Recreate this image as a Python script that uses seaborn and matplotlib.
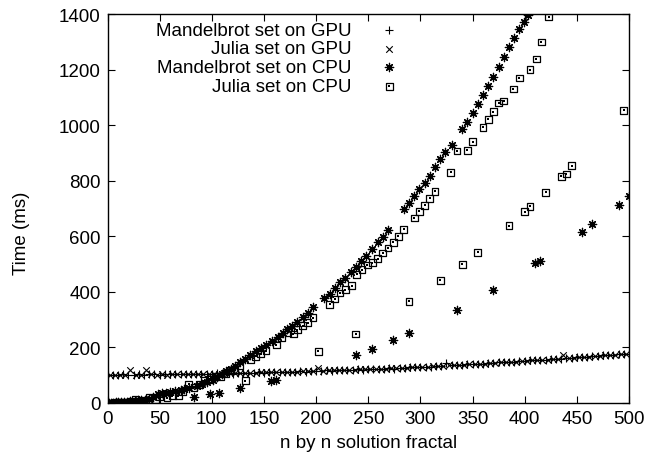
import matplotlib
matplotlib.use("Agg")
import matplotlib.pyplot as plt
import seaborn as sns
import numpy as np

# ---------------- data ----------------
mandel_gpu_x = list(range(0, 501, 5))
mandel_gpu_y = [101, 102, 101, 103, 102, 101, 103, 102, 104, 103, 102, 104, 103, 104, 103, 105, 104, 105, 104, 106, 105,
                107, 106, 107, 106, 108, 107, 109, 108, 110, 109,
                111, 110, 112, 111, 113, 112, 114, 113, 115, 116,
                115, 117, 116, 118, 119, 118, 120, 121, 120, 122,
                123, 122, 124, 125, 124, 126, 127, 128, 129, 130,
                131, 131, 133, 134, 145, 136, 137, 138, 139, 140,
                141, 142, 143, 144, 146, 147, 148, 149, 150, 151,
                153, 154, 155, 156, 157, 159, 160, 161, 163, 164,
                165, 167, 168, 170, 171, 172, 174, 175, 177, 178]

julia_gpu_x = list(range(2, 501, 5))
julia_gpu_y = [100, 101, 102, 101, 120, 102, 101, 117, 103, 102, 103, 102, 104, 103, 104, 103, 105, 104, 105, 105,
               106, 106, 107, 107, 108, 108, 108, 109, 109, 110, 110, 111, 111, 112, 112, 113, 113, 114, 114, 115,
               126, 116, 117, 117, 118, 119, 119, 120, 121, 121, 122, 123, 123, 124, 125, 125, 126, 127, 128, 129,
               130, 131, 132, 133, 134, 135, 136, 137, 138, 139, 140, 141, 142, 143, 145, 146, 147, 148, 149, 150,
               152, 153, 154, 155, 156, 158, 159, 172, 162, 163, 164, 166, 167, 169, 170, 171, 173, 174, 176, 177]

mandel_cpu_x = [1, 3, 5, 8, 10, 13, 16, 19, 22, 26, 29, 32, 36, 40, 44, 48, 52, 56, 60, 65, 70, 73, 78, 83, 86,
                91, 95, 98, 101, 105, 107, 110, 114, 118, 122, 127, 127, 132, 137, 142, 147, 152, 157, 158, 162,
                163, 168, 172, 177, 182, 187, 192, 197, 208, 213, 218, 223, 228, 233, 238, 238, 243, 248, 254, 254,
                259, 264, 269, 274, 284, 289, 289, 294, 299, 304, 309, 314, 319, 324, 330, 335, 340, 345, 350, 355,
                360, 365, 370, 370, 375, 380, 385, 390, 395, 399, 403, 410, 415, 455, 465, 490, 500]
mandel_cpu_y = [0, 1, 1, 2, 2, 3, 4, 5, 6, 7, 9, 10, 12, 16, 22, 33, 35, 37, 38, 42, 46, 50, 55, 20, 62,
                68, 75, 34, 84, 92, 36, 103, 115, 124, 134, 53, 146, 158, 174, 186, 197, 207, 78, 224, 83,
                238, 252, 265, 278, 292, 308, 325, 344, 377, 393, 414, 434, 451, 470, 174, 488, 510, 530, 194, 555,
                578, 599, 621, 225, 697, 251, 720, 746, 769, 793, 818, 848, 877, 902, 928, 336, 985, 1012, 1044, 1075,
                1108, 1140, 407, 1175, 1210, 1245, 1280, 1315, 1345, 1370, 1398, 504, 512, 617, 643, 712, 744]

julia_cpu_x = [1, 4, 7, 10, 13, 16, 19, 22, 27, 31, 34, 40, 46, 50, 57, 62, 68, 72, 78, 83, 88, 93, 98, 103, 108,
               113, 118, 122, 127, 132, 137, 142, 147, 152, 162, 167, 173, 178, 182, 187, 192, 197, 202, 213, 218,
               223, 228, 234, 238, 239, 244, 249, 254, 259, 264, 269, 274, 279, 284, 289, 294, 299, 304, 309, 314,
               319, 329, 335, 340, 345, 350, 355, 360, 365, 370, 375, 380, 385, 389, 395, 400, 405, 405, 411, 416,
               420, 423, 435, 440, 445, 495]
julia_cpu_y = [0, 0, 1, 1, 2, 2, 3, 4, 14, 7, 8, 20, 14, 24, 18, 26, 26, 42, 68, 56, 68, 80, 86, 96, 95,
               105, 116, 120, 134, 80, 158, 168, 176, 188, 209, 236, 254, 248, 264, 278, 289, 307, 186, 355, 374,
               396, 408, 422, 248, 463, 480, 497, 505, 520, 540, 558, 578, 600, 625, 366, 666, 690, 712, 737, 762,
               441, 830, 907, 499, 909, 940, 542, 992, 1021, 1048, 1080, 1087, 638, 1130, 1170, 688, 708, 1200, 1238, 1299,
               758, 1389, 816, 824, 854, 1054]

labels = ["Mandelbrot set on GPU", "Julia set on GPU", "Mandelbrot set on CPU", "Julia set on CPU"]
x_ticks = list(range(0, 501, 50))
y_ticks = list(range(0, 1401, 200))

# ---------------- figure ----------------
sns.set_style("ticks")
plt.rcParams["font.family"] = ["Liberation Sans", "DejaVu Sans"]
plt.rcParams["text.color"] = "black"
plt.rcParams["axes.labelcolor"] = "black"
FS = 13.5

fig = plt.figure(figsize=(6.47, 4.64), dpi=100)
L, R, T, B = 107.5, 629.0, 15.0, 404.0
ax = fig.add_axes([L / 647, 1 - B / 464, (R - L) / 647, (B - T) / 464])

h1 = sns.scatterplot(x=mandel_gpu_x, y=mandel_gpu_y, marker="+", s=30, color="black",
                     linewidth=0.8, ax=ax).collections[-1]
h2 = sns.scatterplot(x=julia_gpu_x, y=julia_gpu_y, marker="x", s=22, color="black",
                     linewidth=0.8, ax=ax).collections[-1]
h3 = sns.scatterplot(x=mandel_cpu_x, y=mandel_cpu_y, marker=(8, 2, 0), s=36, color="black",
                     linewidth=0.9, ax=ax).collections[-1]
h4a = sns.scatterplot(x=julia_cpu_x, y=julia_cpu_y, marker="s", s=24, color="black",
                      facecolors="none", edgecolors="black", linewidth=0.9, ax=ax).collections[-1]
h4b = sns.scatterplot(x=julia_cpu_x, y=julia_cpu_y, marker="s", s=1.2, color="black",
                      linewidth=0, ax=ax).collections[-1]

ax.set_xlim(0, 500)
ax.set_ylim(0, 1400)
ax.set_xticks(x_ticks)
ax.set_yticks(y_ticks)
ax.tick_params(direction="in", length=5, width=0.8, top=True, right=True,
               labelsize=FS, colors="black", labelcolor="black", pad=5)
for sp in ax.spines.values():
    sp.set_visible(True)
    sp.set_linewidth(1.0)
    sp.set_color("black")

ax.set_xlabel("n by n solution fractal", fontsize=FS, labelpad=5, color="black")
ax.set_ylabel("Time (ms)", fontsize=FS, labelpad=20, color="black")
ax.yaxis.set_label_coords(-0.148, 0.44)

leg = ax.legend([h1, h2, h3, (h4a, h4b)], labels, loc="upper right",
                bbox_to_anchor=(398.5 / 647, 1 - 22.5 / 464), bbox_transform=fig.transFigure,
                frameon=False, markerfirst=False, fontsize=FS, handlelength=1.0,
                handletextpad=1.49, labelspacing=0.09, borderpad=0, borderaxespad=0,
                scatterpoints=1)
for t in leg.get_texts():
    t.set_color("black")

fig.savefig("out.png", dpi=100)
